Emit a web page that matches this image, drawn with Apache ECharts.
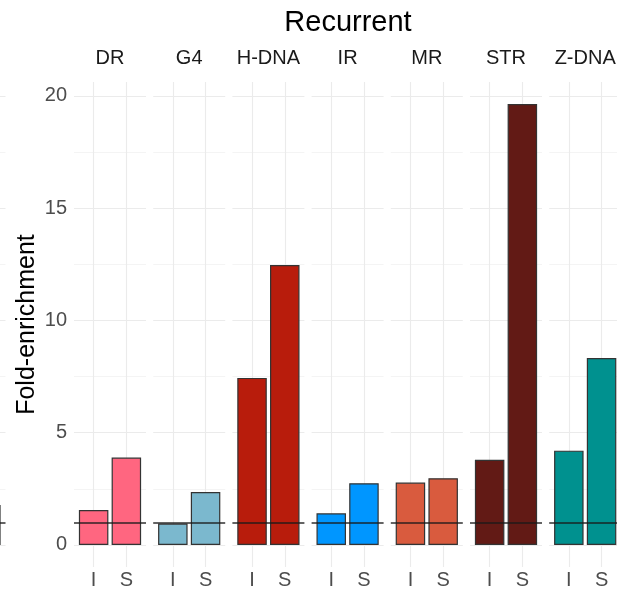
<!DOCTYPE html>
<html>
<head>
<meta charset="utf-8">
<script src="https://cdn.jsdelivr.net/npm/echarts@6/dist/echarts.min.js"></script>
<style>
  html, body { margin: 0; padding: 0; background: #ffffff; }
  #chart { width: 617px; height: 590px; }
</style>
</head>
<body>
<div id="chart"></div>
<script>
// ---- data ----
const titleText = 'Recurrent';
const yAxisTitle = 'Fold-enrichment';
const facets = ['DR', 'G4', 'H-DNA', 'IR', 'MR', 'STR', 'Z-DNA'];
const groups = ['I', 'S'];
const valuesI = [1.56, 0.95, 7.44, 1.41, 2.78, 3.79, 4.20];
const valuesS = [3.89, 2.36, 12.47, 2.75, 2.97, 19.64, 8.33];
const prevPanelS = 1.78;            // bar cut at the left edge (previous panel)
const referenceLine = 1;
const yTicks = [0, 5, 10, 15, 20];
const yMinorTicks = [2.5, 7.5, 12.5, 17.5];
const facetColors = ['#FF6680', '#7BB8CE', '#B81C0C', '#0096FF', '#D95B3E', '#621A15', '#00918F'];

// ---- layout ----
const panelLeft0 = 74, panelStep = 79.2, panelWidth = 72;
const prevPanelLeft = -66.5;
const gridTop = 82, gridHeight = 485;
const yMin = -0.982, yMax = 20.62;
const xMin = 0.4, xMax = 2.6;
const FONT = 'Liberation Sans, Arial, sans-serif';

const grids = [], xAxes = [], yAxes = [], series = [];
const graphics = [];

function addPanel(left, data, color, showYLabels, showXLabels) {
  const gi = grids.length;
  grids.push({ left: left, top: gridTop, width: panelWidth, height: gridHeight,
               containLabel: false, outerBoundsMode: 'none' });
  xAxes.push({
    gridIndex: gi, type: 'value', min: xMin, max: xMax,
    axisLine: { show: false },
    axisTick: { show: false, customValues: [1, 2] },
    axisLabel: {
      show: showXLabels, customValues: [1, 2],
      formatter: v => groups[Math.round(v) - 1],
      color: '#4D4D4D', fontSize: 20, fontFamily: FONT, margin: 3
    },
    splitLine: { show: true, lineStyle: { color: '#EBEBEB', width: 1.1 } }
  });
  const yMajorIdx = yAxes.length;
  yAxes.push({
    gridIndex: gi, type: 'value', min: yMin, max: yMax,
    axisLine: { show: false },
    axisTick: { show: false, customValues: yTicks },
    axisLabel: {
      show: showYLabels, customValues: yTicks,
      color: '#4D4D4D', fontSize: 20, fontFamily: FONT, margin: 7
    },
    splitLine: { show: true, lineStyle: { color: '#EBEBEB', width: 1.1 } },
    name: showYLabels ? yAxisTitle : '',
    nameLocation: 'middle', nameGap: 34, nameRotate: 90,
    nameTextStyle: { color: '#000000', fontSize: 25, fontFamily: FONT }
  });
  yAxes.push({
    gridIndex: gi, type: 'value', min: yMin, max: yMax, position: 'left',
    axisLine: { show: false },
    axisTick: { show: false, customValues: yMinorTicks },
    axisLabel: { show: false, customValues: yMinorTicks },
    splitLine: { show: true, lineStyle: { color: '#F1F1F1', width: 0.8 } }
  });
  series.push({
    type: 'bar', xAxisIndex: gi, yAxisIndex: yMajorIdx,
    data: data, barWidth: 29.5, z: 3,
    itemStyle: { color: color, borderColor: '#333333', borderWidth: 1.2 },
    markLine: {
      silent: true, symbol: 'none', animation: false,
      label: { show: false },
      lineStyle: { color: '#1A1A1A', width: 1.6, type: 'solid', opacity: 0.9 },
      data: [{ yAxis: referenceLine }]
    }
  });
}

// previous (cut-off) panel at left edge
addPanel(prevPanelLeft, [[2, prevPanelS]], '#00918F', false, false);

facets.forEach((f, i) => {
  const left = panelLeft0 + i * panelStep;
  addPanel(left, [[1, valuesI[i]], [2, valuesS[i]]], facetColors[i], i === 0, true);
  graphics.push({
    type: 'text', x: left + panelWidth / 2, y: 58,
    style: { text: f, fill: '#1A1A1A', font: '20px ' + FONT, textAlign: 'center', textVerticalAlign: 'middle' }
  });
});

graphics.push({
  type: 'text', x: 348, y: 23,
  style: { text: titleText, fill: '#000000', font: '29px ' + FONT, textAlign: 'center', textVerticalAlign: 'middle' }
});

const chart = echarts.init(document.getElementById('chart'), null, { renderer: 'canvas' });
chart.setOption({
  animation: false,
  backgroundColor: '#ffffff',
  grid: grids,
  xAxis: xAxes,
  yAxis: yAxes,
  series: series,
  graphic: graphics
});
</script>
</body>
</html>
